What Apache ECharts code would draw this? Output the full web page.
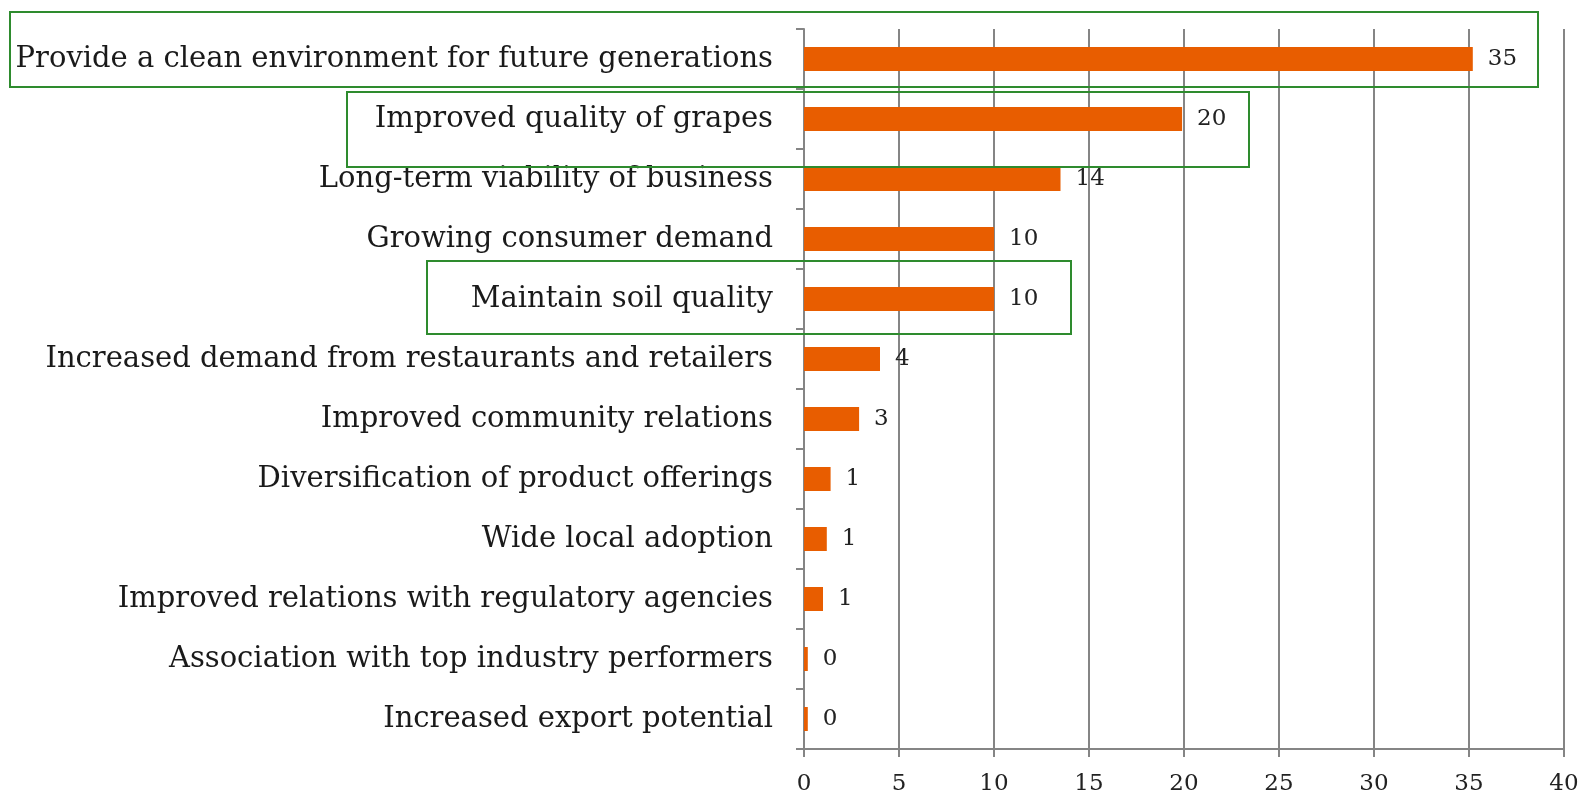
<!DOCTYPE html>
<html>
<head>
<meta charset="utf-8">
<script src="https://cdn.jsdelivr.net/npm/echarts@6/dist/echarts.min.js"></script>
<style>
  html, body { margin: 0; padding: 0; background: #fff; }
  #chart { width: 1584px; height: 797px; }
</style>
</head>
<body>
<div id="chart"></div>
<script>
// categories, top to bottom
const categories = [
  'Provide a clean environment for future generations',
  'Improved quality of grapes',
  'Long-term viability of business',
  'Growing consumer demand',
  'Maintain soil quality',
  'Increased demand from restaurants and retailers',
  'Improved community relations',
  'Diversification of product offerings',
  'Wide local adoption',
  'Improved relations with regulatory agencies',
  'Association with top industry performers',
  'Increased export potential'
];
// bar lengths (labels are rounded)
const values = [35.2, 19.9, 13.5, 10.0, 10.0, 4.0, 2.9, 1.4, 1.2, 1.0, 0.2, 0.2];
const xTicks = [0, 5, 10, 15, 20, 25, 30, 35, 40];

// green highlight boxes [x, y, w, h]
const highlights = [
  [10, 12, 1528, 75],
  [347, 92, 902, 75],
  [427, 261, 644, 73]
];

const serif = "'DejaVu Serif', 'Liberation Serif', serif";
const gray = '#858585';

const chart = echarts.init(document.getElementById('chart'));

const option = {
  backgroundColor: '#fff',
  animation: false,
  grid: { left: 804, right: 20, top: 29, bottom: 48 },
  xAxis: {
    type: 'value',
    min: xTicks[0],
    max: xTicks[xTicks.length - 1],
    interval: 5,
    axisLine: { show: true, lineStyle: { color: gray, width: 2 } },
    axisTick: { show: true, length: 8, lineStyle: { color: gray, width: 2 } },
    axisLabel: { color: '#222', fontFamily: serif, fontSize: 23, margin: 24 },
    splitLine: { show: true, lineStyle: { color: gray, width: 2 } }
  },
  yAxis: {
    type: 'category',
    data: categories,
    inverse: true,
    axisLine: { show: true, lineStyle: { color: gray, width: 2 } },
    axisTick: { show: true, length: 8, alignWithLabel: false, lineStyle: { color: gray, width: 2 } },
    axisLabel: { color: '#1a1a1a', fontFamily: serif, fontSize: 29, margin: 31 }
  },
  series: [{
    type: 'bar',
    data: values,
    barWidth: 24,
    itemStyle: { color: '#e85d00' },
    label: {
      show: true,
      position: 'right',
      distance: 15,
      color: '#222',
      fontFamily: serif,
      fontSize: 23,
      formatter: p => Math.round(p.value)
    }
  }],
  graphic: highlights.map(h => ({
    type: 'rect',
    z: 100,
    shape: { x: h[0], y: h[1], width: h[2], height: h[3] },
    style: { fill: 'none', stroke: '#2e8b2e', lineWidth: 2 }
  }))
};

chart.setOption(option);
</script>
</body>
</html>
